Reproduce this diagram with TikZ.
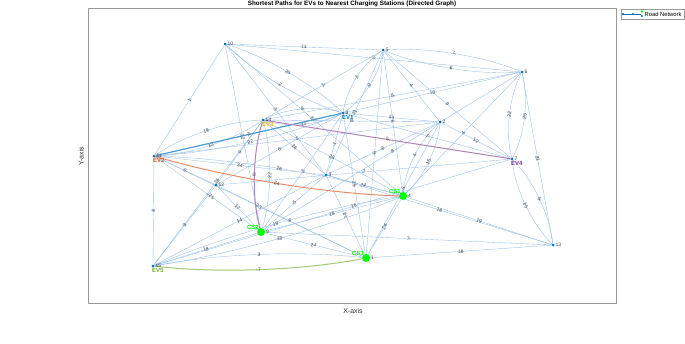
\documentclass[tikz,border=0pt]{standalone}
\usepackage{fontspec}
\setmainfont{Liberation Sans}
\usetikzlibrary{arrows.meta}
\usetikzlibrary{calc}
\usetikzlibrary{decorations.markings}
\pgfdeclarelayer{back}
\pgfsetlayers{back,main}
\definecolor{ecol}{RGB}{150,192,232}
\definecolor{mblue}{RGB}{0,114,189}
\definecolor{morange}{RGB}{217,83,25}
\definecolor{myellow}{RGB}{237,177,32}
\definecolor{mpurple}{RGB}{126,47,142}
\definecolor{mgreen}{RGB}{119,172,48}
\definecolor{csgreen}{RGB}{0,255,0}

\begin{document}
\begin{tikzpicture}[x=1pt,y=-1pt]

  \tikzset{vertex/.style = {shape=circle,fill=mblue,inner sep=0pt,minimum size=3pt}}
  \tikzset{station/.style = {shape=circle,fill=csgreen,inner sep=0pt,minimum size=8pt}}
  \tikzset{num/.style = {font=\fontsize{5}{5}\selectfont,text=black!75,inner sep=0.8pt}}
  \tikzset{tag/.style = {font=\fontsize{6}{6}\selectfont\bfseries,inner sep=0pt}}
  \tikzset{edge/.style = {draw=ecol,line width=0.35pt,postaction={decorate,decoration={markings,mark=at position 0.5 with {\arrow{Stealth[length=2.4pt,width=2.2pt]}}}}}}
  \tikzset{bi/.style = {to path={.. controls ($(\tikztostart)!0.3!(\tikztotarget)!10pt!-90:(\tikztotarget)$) and ($(\tikztostart)!0.7!(\tikztotarget)!10pt!-90:(\tikztotarget)$) .. (\tikztotarget) \tikztonodes}}}
  \tikzset{wt/.style = {font=\fontsize{5}{5}\selectfont,text=black!70,sloped,midway,inner sep=0.3pt}}
  \tikzset{pathB/.style = {draw=mblue!70!white,line width=1.2pt}}
  \tikzset{pathO/.style = {draw=morange!65!white,line width=1pt}}
  \tikzset{pathP/.style = {draw=mpurple!60!white,line width=1pt}}
  \tikzset{pathG/.style = {draw=mgreen!65!white,line width=1pt}}
  \useasboundingbox (0,0) rectangle (685,343);
  % frame
  \draw[black!40,line width=0.6pt] (88,8) rectangle (616,303);
  \node[font=\fontsize{6.3}{7}\selectfont\bfseries] (title) at (352,4) {Shortest Paths for EVs to Nearest Charging Stations (Directed Graph)};
  \node[font=\fontsize{7}{7}\selectfont,text=black!80] (xlab) at (353,311) {X-axis};
  \node[font=\fontsize{7}{7}\selectfont,text=black!80,rotate=90] (ylab) at (81,156) {Y-axis};
  % vertices
  \node[station,label={[num]right:1}] (v1) at (366,258) {};
  \node[vertex,label={[num]right:2}] (v2) at (440,122) {};
  \node[vertex,label={[num]right:3}] (v3) at (326,175) {};
  \node[station,label={[num]right:4}] (v4) at (403,196) {};
  \node[vertex,label={[num]right:5}] (v5) at (383,50) {};
  \node[vertex,label={[num]right:6}] (v6) at (522,72) {};
  \node[vertex,label={[num]right:7}] (v7) at (512,159) {};
  \node[vertex,label={[num]right:8}] (v8) at (343,113) {};
  \node[station,label={[num]right:9}] (v9) at (261,232) {};
  \node[vertex,label={[num]right:10}] (v10) at (225,44) {};
  \node[vertex,label={[num]right:11}] (v11) at (154,156) {};
  \node[vertex,label={[num]right:12}] (v12) at (216,185) {};
  \node[vertex,label={[num]right:13}] (v13) at (553,245) {};
  \node[vertex,label={[num]right:14}] (v14) at (263,120) {};
  \node[vertex,label={[num]right:15}] (v15) at (153,266) {};
  % tags
  \node[tag,text=mblue,anchor=north west] (ev1) at ([xshift=-1pt,yshift=-2.5pt]v8.center) {EV1};
  \node[tag,text=morange,anchor=north west] (ev2) at ([xshift=-1pt,yshift=-2.5pt]v11.center) {EV2};
  \node[tag,text=myellow,anchor=north west] (ev3) at ([xshift=-1pt,yshift=-2.5pt]v14.center) {EV3};
  \node[tag,text=mpurple,anchor=north west] (ev4) at ([xshift=-1pt,yshift=-2.5pt]v7.center) {EV4};
  \node[tag,text=mgreen,anchor=north west] (ev5) at ([xshift=-1pt,yshift=-2.5pt]v15.center) {EV5};
  \node[tag,text=csgreen,anchor=south east] (cs1) at ([xshift=-2pt,yshift=2pt]v4.center) {CS1};
  \node[tag,text=csgreen,anchor=south east] (cs2) at ([xshift=-2pt,yshift=2pt]v9.center) {CS2};
  \node[tag,text=csgreen,anchor=south east] (cs3) at ([xshift=-2pt,yshift=2pt]v1.center) {CS3};
  % legend
  \draw[black!40,fill=white] (621,9) rectangle (684,19);
  \draw[mblue,line width=0.5pt] (622,14) -- (641,14);
  \fill[mblue] (623,14) circle (1.2pt) (633,14) circle (1.2pt) (642,16) circle (1.2pt);
  \fill[csgreen] (642,11.5) circle (1.4pt);
  \node[font=\fontsize{5.8}{6}\selectfont,anchor=west,inner sep=0pt] (leg) at (644.5,14) {Road Network};
  %edges
  \begin{pgfonlayer}{back}
  \fill[white] (0,0) rectangle (685,343);
  \draw[edge] (v10) to node[wt]{1} (v11);
  \draw[edge] (v5) to node[wt]{11} (v10);
  \draw[edge] (v10) to[bi] node[wt]{2} (v8);
  \draw[edge] (v8) to[bi] node[wt]{20} (v10);
  \draw[edge] (v5) to node[wt]{1} (v14);
  \draw[edge] (v10) to node[wt]{3} (v3);
  \draw[edge] (v10) to node[wt]{24} (v4);
  \draw[edge] (v6) to node[wt]{3} (v10);
  \draw[edge] (v10) to node[wt]{22} (v9);
  \draw[edge] (v2) to node[wt]{6} (v11);
  \draw[edge] (v14) to node[wt]{26} (v3);
  \draw[edge] (v3) to node[wt]{1} (v8);
  \draw[edge] (v14) to node[wt]{6} (v12);
  \draw[edge] (v8) to node[wt]{6} (v12);
  \draw[edge] (v11) to node[wt]{24} (v3);
  \draw[edge] (v11) to node[wt]{9} (v12);
  \draw[edge] (v9) to node[wt,pos=0.45]{25} (v11);
  \draw[edge] (v15) to node[wt,pos=0.58]{26} (v14);
  \draw[edge] (v12) to node[wt]{17} (v9);
  \draw[edge] (v11) to node[wt]{23} (v1);
  \draw[edge] (v9) to node[wt]{5} (v3);
  \draw[edge] (v12) to node[wt]{9} (v1);
  \draw[edge] (v4) to node[wt]{18} (v9);
  \draw[edge] (v15) to node[wt]{14} (v3);
  \draw[edge] (v12) to node[wt]{9} (v15);
  \draw[edge] (v11) to node[wt]{4} (v15);
  \draw[edge] (v9) to node[wt]{18} (v15);
  \draw[edge] (v9) to node[wt]{14} (v1);
  \draw[edge] (v15) to[bi] node[wt]{18} (v4);
  \draw[edge] (v4) to[bi] node[wt]{19} (v15);
  \draw[edge] (v1) to[bi] node[wt]{3} (v15);
  \draw[edge] (v9) to[bi] node[wt]{22} (v14);
  \draw[edge] (v4) to[bi] node[wt]{26} (v11);
  \draw[edge] (v11) to[bi] node[wt]{22} (v8);
  \draw[edge] (v11) to[bi] node[wt]{13} (v14);
  \draw[edge] (v14) to[bi] node[wt]{19} (v11);
  \draw[edge] (v14) to[bi] node[wt]{15} (v8);
  \draw[edge] (v8) to[bi] node[wt]{8} (v14);
  \draw[edge] (v5) to[bi] node[wt]{6} (v6);
  \draw[edge] (v6) to[bi] node[wt]{7} (v5);
  \draw[edge] (v6) to[bi] node[wt]{22} (v7);
  \draw[edge] (v7) to[bi] node[wt]{25} (v6);
  \draw[edge] (v7) to[bi] node[wt]{16} (v13);
  \draw[edge] (v13) to[bi] node[wt]{6} (v7);
  \draw[edge] (v2) to[bi] node[wt]{4} (v4);
  \draw[edge] (v4) to[bi] node[wt]{15} (v2);
  \draw[edge] (v5) to[bi] node[wt]{2} (v8);
  \draw[edge] (v8) to[bi] node[wt]{9} (v5);
  \draw[edge] (v6) to node[wt]{16} (v8);
  \draw[edge] (v5) to node[wt]{4} (v2);
  \draw[edge] (v6) to node[wt]{8} (v14);
  \draw[edge] (v5) to node[wt]{9} (v7);
  \draw[edge] (v5) to node[wt]{21} (v3);
  \draw[edge] (v8) to node[wt]{19} (v2);
  \draw[edge] (v5) to node[wt]{8} (v4);
  \draw[edge] (v2) to node[wt]{8} (v14);
  \draw[edge] (v6) to node[wt]{4} (v4);
  \draw[edge] (v2) to node[wt]{12} (v7);
  \draw[edge] (v7) to node[wt]{7} (v8);
  \draw[edge] (v3) to node[wt]{6} (v2);
  \draw[edge] (v9) to node[wt]{8} (v6);
  \draw[edge] (v1) to node[wt]{6} (v5);
  \draw[edge] (v4) to node[wt]{25} (v14);
  \draw[edge] (v12) to node[wt]{7} (v7);
  \draw[edge] (v4) to node[wt]{24} (v3);
  \draw[edge] (v1) to node[wt]{25} (v8);
  \draw[edge] (v1) to node[wt]{5} (v2);
  \draw[edge] (v15) to node[wt,pos=0.56]{16} (v7);
  \draw[edge] (v3) to node[wt]{21} (v1);
  \draw[edge] (v4) to node[wt]{24} (v1);
  \draw[edge] (v13) to node[wt]{18} (v3);
  \draw[edge] (v13) to node[wt]{19} (v4);
  \draw[edge] (v13) to node[wt]{7} (v9);
  \draw[edge] (v13) to node[wt]{16} (v1);
  \draw[edge] (v6) to node[wt]{23} (v13);
  \draw[edge] (v8) to node[wt]{2} (v9);
  % shortest paths
  \draw[edge,pathB] (v8) to node[wt]{7} (v11);
  \draw[edge,pathO] (v11) to[bi] node[wt]{24} (v4);
  \draw[edge,pathP] (v7) to node[wt]{5} (v14);
  \draw[edge,pathP] (v14) to[bi] node[wt]{6} (v9);
  \draw[edge,pathG] (v15) to[bi] node[wt]{7} (v1);
  \end{pgfonlayer}
\end{tikzpicture}
\end{document}
